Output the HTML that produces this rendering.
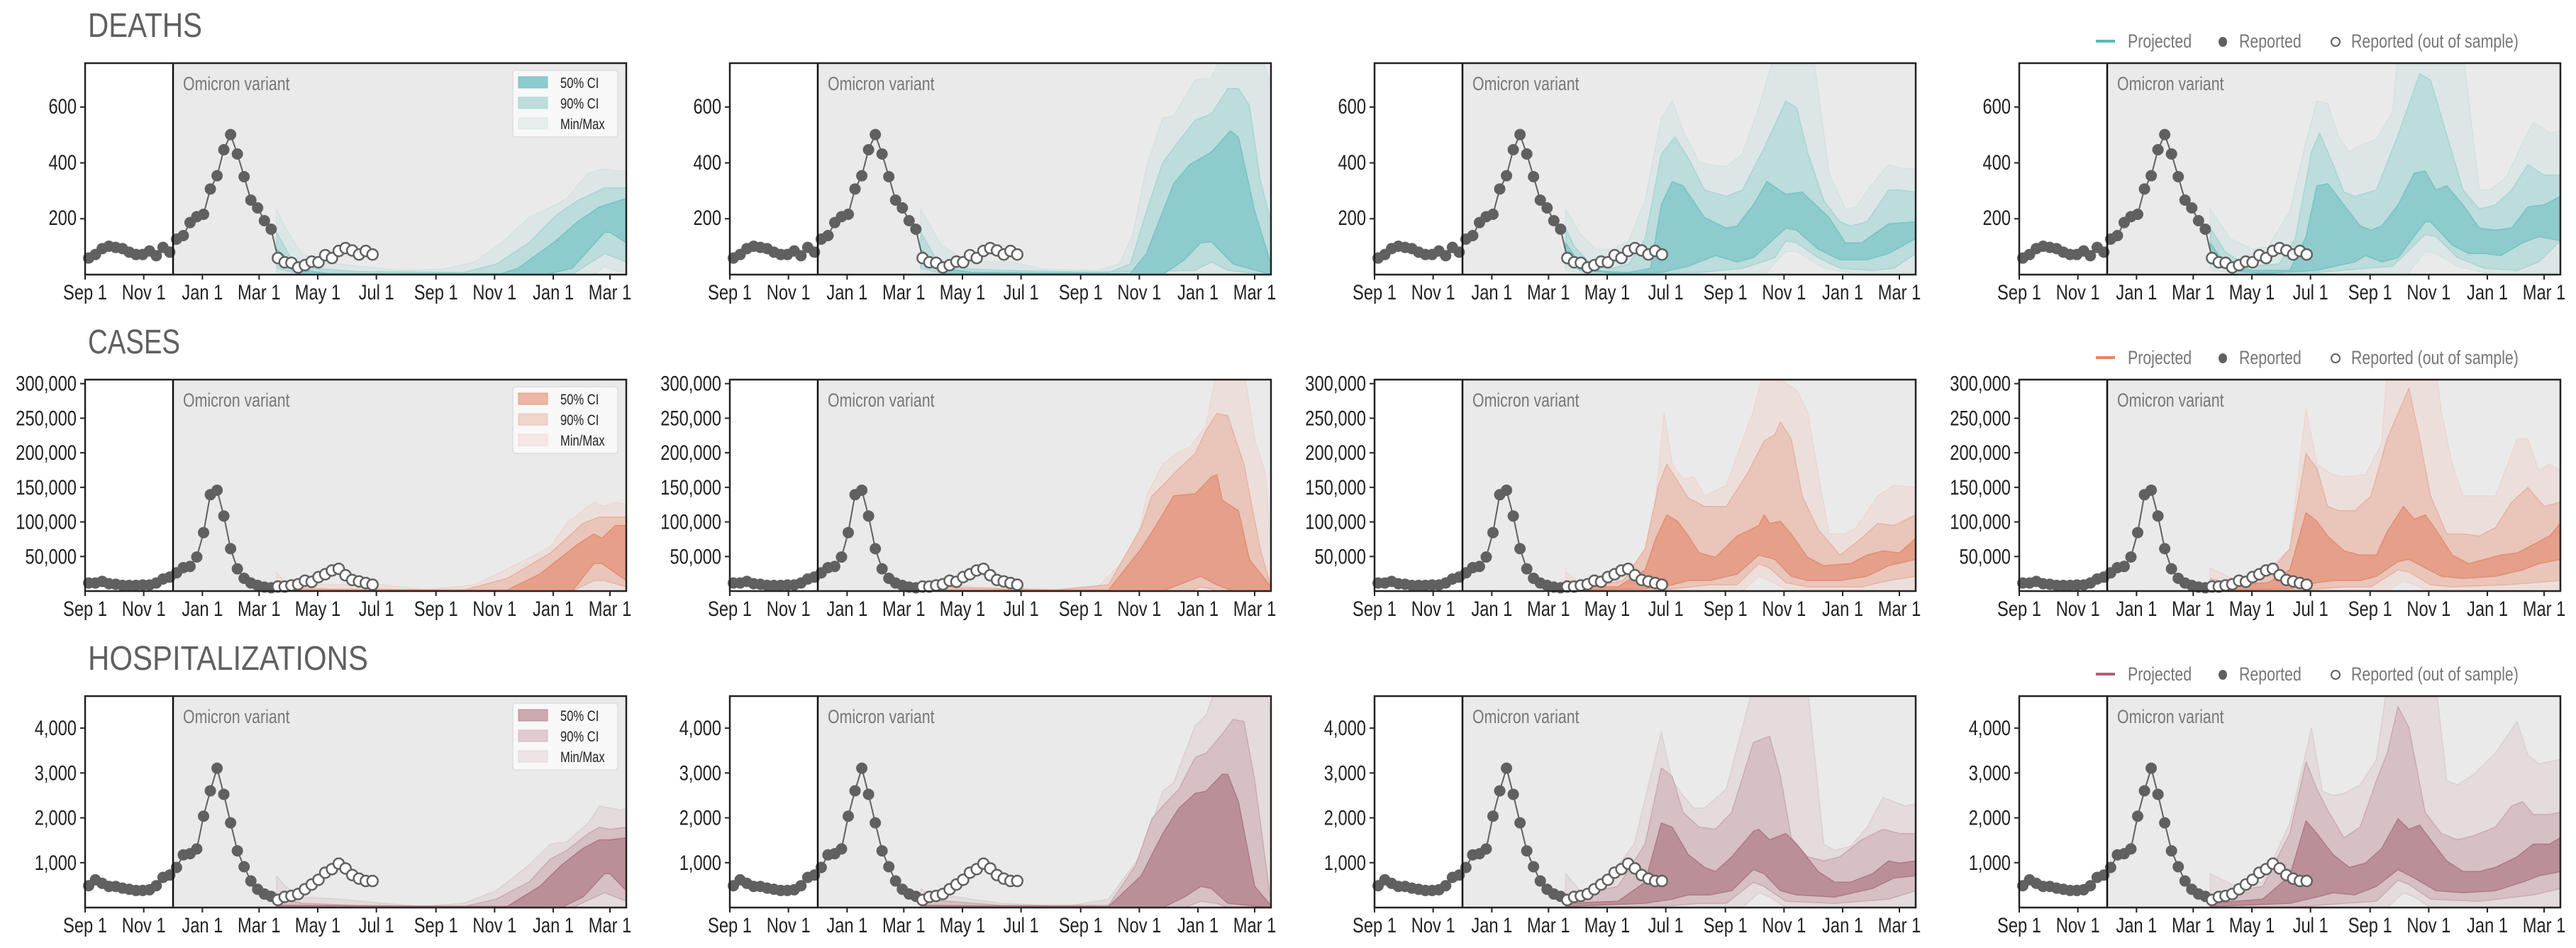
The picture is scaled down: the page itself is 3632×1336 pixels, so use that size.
<!DOCTYPE html>
<html><head><meta charset="utf-8"><style>
html,body{margin:0;padding:0;background:#fff;}
svg{display:block;font-family:"Liberation Sans Narrow","Liberation Sans",sans-serif;}
.tl{font-size:30px;fill:#222;}
.tt{font-size:48px;fill:#606060;}
.om{font-size:27px;fill:#777;}
.lg{font-size:27px;fill:#777;}
.il{font-size:21px;fill:#222;}
</style></head><body>
<svg id="s" width="3632" height="1336" viewBox="0 0 3632 1336" xmlns="http://www.w3.org/2000/svg">
<g id="plots"></g>
<text class="tt" x="124" y="52" textLength="161" lengthAdjust="spacingAndGlyphs">DEATHS</text>
<text class="tt" x="124" y="498" textLength="130" lengthAdjust="spacingAndGlyphs">CASES</text>
<text class="tt" x="124" y="944" textLength="395" lengthAdjust="spacingAndGlyphs">HOSPITALIZATIONS</text>
<g>
<rect x="2955" y="56" width="27" height="4" fill="#5ab9bb"/>
<text class="lg" x="3000" y="67">Projected</text>
<ellipse cx="3134" cy="59" rx="6" ry="7" fill="#606060"/>
<text class="lg" x="3157" y="67">Reported</text>
<circle cx="3293" cy="59" r="6" fill="#fff" stroke="#606060" stroke-width="2"/>
<text class="lg" x="3315" y="67">Reported (out of sample)</text>
</g>
<g transform="translate(0,446)">
<rect x="2955" y="56" width="27" height="4" fill="#e98463"/>
<text class="lg" x="3000" y="67">Projected</text>
<ellipse cx="3134" cy="59" rx="6" ry="7" fill="#606060"/>
<text class="lg" x="3157" y="67">Reported</text>
<circle cx="3293" cy="59" r="6" fill="#fff" stroke="#606060" stroke-width="2"/>
<text class="lg" x="3315" y="67">Reported (out of sample)</text>
</g>
<g transform="translate(0,892)">
<rect x="2955" y="56" width="27" height="4" fill="#b4606e"/>
<text class="lg" x="3000" y="67">Projected</text>
<ellipse cx="3134" cy="59" rx="6" ry="7" fill="#606060"/>
<text class="lg" x="3157" y="67">Reported</text>
<circle cx="3293" cy="59" r="6" fill="#fff" stroke="#606060" stroke-width="2"/>
<text class="lg" x="3315" y="67">Reported (out of sample)</text>
</g>
<text class="om" x="258" y="127">Omicron variant</text>
<text class="om" x="1167" y="127">Omicron variant</text>
<text class="om" x="2076" y="127">Omicron variant</text>
<text class="om" x="2985" y="127">Omicron variant</text>
<text class="om" x="258" y="573">Omicron variant</text>
<text class="om" x="1167" y="573">Omicron variant</text>
<text class="om" x="2076" y="573">Omicron variant</text>
<text class="om" x="2985" y="573">Omicron variant</text>
<text class="om" x="258" y="1019">Omicron variant</text>
<text class="om" x="1167" y="1019">Omicron variant</text>
<text class="om" x="2076" y="1019">Omicron variant</text>
<text class="om" x="2985" y="1019">Omicron variant</text>
<g>
<rect x="723" y="99" width="148" height="94" rx="4" fill="#f8f8f8" stroke="#dcdcdc" stroke-width="1.5"/>
<rect x="731" y="108" width="41" height="16" fill="#8dcbcc" stroke="#76c3c4"/>
<rect x="731" y="137" width="41" height="16" fill="#bddcdc" stroke="#a6d6d6"/>
<rect x="731" y="166" width="41" height="16" fill="#e6eded" stroke="#dde8e8"/>
<text class="il" x="790" y="124">50% CI</text>
<text class="il" x="790" y="153">90% CI</text>
<text class="il" x="790" y="182">Min/Max</text>
</g>
<g transform="translate(0,446)">
<rect x="723" y="99" width="148" height="94" rx="4" fill="#f8f8f8" stroke="#dcdcdc" stroke-width="1.5"/>
<rect x="731" y="108" width="41" height="16" fill="#ecb6a4" stroke="#e69a82"/>
<rect x="731" y="137" width="41" height="16" fill="#f1d4ca" stroke="#ecc3b6"/>
<rect x="731" y="166" width="41" height="16" fill="#f5e7e3" stroke="#f1dcd6"/>
<text class="il" x="790" y="124">50% CI</text>
<text class="il" x="790" y="153">90% CI</text>
<text class="il" x="790" y="182">Min/Max</text>
</g>
<g transform="translate(0,892)">
<rect x="723" y="99" width="148" height="94" rx="4" fill="#f8f8f8" stroke="#dcdcdc" stroke-width="1.5"/>
<rect x="731" y="108" width="41" height="16" fill="#cca9ae" stroke="#b98d95"/>
<rect x="731" y="137" width="41" height="16" fill="#e0ccd0" stroke="#d3bac0"/>
<rect x="731" y="166" width="41" height="16" fill="#ede4e5" stroke="#e4d8da"/>
<text class="il" x="790" y="124">50% CI</text>
<text class="il" x="790" y="153">90% CI</text>
<text class="il" x="790" y="182">Min/Max</text>
</g>
<g id="ylab" class="tl" text-anchor="end">
<text x="108" y="160">600</text><text x="108" y="239">400</text><text x="108" y="317">200</text>
<text x="1017" y="160">600</text><text x="1017" y="239">400</text><text x="1017" y="317">200</text>
<text x="1926" y="160">600</text><text x="1926" y="239">400</text><text x="1926" y="317">200</text>
<text x="2835" y="160">600</text><text x="2835" y="239">400</text><text x="2835" y="317">200</text>
</g>
<g class="tl" text-anchor="end" id="ylab2"></g>
<g class="tl" text-anchor="middle" id="xlab"></g>
</svg>
<script>
(function(){
var NS="http://www.w3.org/2000/svg";
var L=[120,1029,1938,2847],T=[89,535,981],W=763,H=298;
var root=document.getElementById('plots');
function el(n,a,p){var e=document.createElementNS(NS,n);for(var k in a)e.setAttribute(k,a[k]);(p||root).appendChild(e);return e;}
var ppd=(860-120)/546;
var xd=[0,61,122,181,242,303,365,426,487,546];
var xn=["Sep 1","Nov 1","Jan 1","Mar 1","May 1","Jul 1","Sep 1","Nov 1","Jan 1","Mar 1"];
var ymax=[757,305800,4714];
var yt=[[200,400,600],[50000,100000,150000,200000,250000,300000],[1000,2000,3000,4000]];
function fmt(v){return v.toString().replace(/\B(?=(\d{3})+(?!\d))/g,",");}
var dz=[1090,1075,1050,1040,1045,1050,1065,1075,1075,1060,1080,1045,1065,1010,995,940,915,905,798,742,632,568,650,746,845,878,932,968,1090,1108,1110,1130,1120,1105,1108,1078,1090,1060,1048,1058,1075,1060,1075];
var cz=[1125,1125,1118,1128,1130,1135,1135,1135,1133,1133,1125,1108,1100,1082,1060,1055,1015,912,752,733,842,980,1065,1105,1125,1135,1142,1145,1140,1140,1135,1130,1115,1120,1100,1088,1072,1065,1092,1112,1118,1125,1132];
var hz=[1065,1040,1055,1068,1068,1075,1080,1085,1085,1082,1065,1030,1020,988,935,930,910,772,665,570,680,800,918,985,1045,1080,1100,1110,1125,1112,1108,1100,1080,1060,1040,1010,995,972,992,1020,1035,1045,1045];
var RZ=[[dz,1160,894],[cz,1159,893],[hz,1157,891]];
var COL=[
 {mm:"#dde6e6",mms:"#d3e2e2",c90:"#bddcdc",s90:"#a8d5d5",c50:"#8dcbcc",s50:"#77c3c4"},
 {mm:"#ecdfdb",mms:"#eed6cf",c90:"#eac5b9",s90:"#e7b3a2",c50:"#e69f89",s50:"#e08e74"},
 {mm:"#e3dbdc",mms:"#ddcfd1",c90:"#d6c0c4",s90:"#cbaab0",c50:"#bb8f97",s50:"#ad7a84"}];
var SH=[[
[[[.354,.31],[.37,.22],[.40,.10],[.44,.06],[.50,.04],[.58,.02],[.66,.025],[.72,.06],[.77,.15],[.82,.27],[.87,.33],[.89,.36],[.93,.48],[.96,.50],[.98,.49],[1,.49]],
 [[.354,.01],[.4,0],[.94,0],[.96,.04],[.98,.02],[1,.01]],
 [[.354,.2],[.38,.08],[.42,.03],[.5,.015],[.7,.01],[.76,.05],[.82,.15],[.87,.28],[.91,.35],[.96,.41],[1,.41]],
 [[.354,.03],[.4,0],[.9,0],[.96,.1],[.98,.08],[1,.06]],
 [[.354,.12],[.40,.02],[.45,.005],[.77,.005],[.80,.03],[.87,.16],[.91,.25],[.95,.32],[1,.36]],
 [[.354,.06],[.4,0],[.85,0],[.9,.03],[.96,.2],[.97,.2],[1,.15]]],
[[[.353,.31],[.39,.14],[.44,.06],[.52,.06],[.58,.025],[.68,.02],[.72,.05],[.745,.19],[.77,.51],[.80,.74],[.82,.75],[.86,.92],[.89,.93],[.91,1.05],[.98,1.05],[1,.9]],
 [[.353,.01],[.4,0],[1,0]],
 [[.353,.2],[.38,.08],[.42,.03],[.5,.02],[.7,.01],[.74,.05],[.77,.3],[.80,.53],[.82,.6],[.86,.73],[.89,.76],[.92,.88],[.94,.88],[.96,.8],[.98,.45],[1,.25]],
 [[.353,.03],[.4,0],[.86,.02],[.89,.06],[.92,.02],[1,0]],
 [[.353,.12],[.39,.03],[.45,.01],[.74,.005],[.77,.1],[.82,.43],[.85,.52],[.89,.58],[.925,.68],[.94,.65],[.97,.3],[1,.05]],
 [[.353,.06],[.40,.005],[.80,0],[.84,.07],[.87,.15],[.89,.155],[.93,.05],[1,0]]],
[[[.353,.31],[.38,.19],[.41,.12],[.44,.12],[.47,.16],[.50,.35],[.53,.74],[.55,.82],[.57,.68],[.60,.53],[.62,.52],[.65,.51],[.68,.57],[.71,.79],[.74,1.05],[.81,1.05],[.84,.48],[.87,.31],[.89,.32],[.92,.43],[.95,.52],[.98,.5],[1,.5]],
 [[.353,.02],[.4,0],[.72,0],[.76,.11],[.78,.11],[.83,.03],[.88,.01],[1,.01]],
 [[.353,.22],[.37,.13],[.40,.05],[.44,.03],[.47,.05],[.50,.17],[.53,.57],[.555,.65],[.58,.55],[.61,.40],[.65,.37],[.68,.40],[.72,.60],[.76,.82],[.78,.79],[.80,.58],[.83,.35],[.86,.25],[.88,.23],[.91,.25],[.95,.40],[.97,.40],[1,.39]],
 [[.353,.05],[.4,0],[.6,.01],[.68,.03],[.74,.08],[.76,.16],[.78,.15],[.82,.08],[.86,.03],[.92,.02],[.96,.03],[1,.1]],
 [[.353,.15],[.38,.05],[.42,.015],[.47,.01],[.51,.03],[.53,.33],[.55,.44],[.57,.42],[.61,.27],[.65,.22],[.67,.23],[.70,.33],[.725,.44],[.76,.38],[.79,.39],[.84,.27],[.87,.15],[.9,.15],[.95,.24],[1,.25]],
 [[.353,.09],[.38,.02],[.45,.005],[.53,.01],[.58,.04],[.63,.09],[.67,.06],[.70,.08],[.76,.22],[.78,.21],[.82,.12],[.86,.07],[.91,.07],[.95,.1],[1,.17]]],
[[[.353,.31],[.39,.17],[.43,.12],[.46,.13],[.50,.3],[.53,.63],[.55,.82],[.57,.81],[.59,.65],[.61,.58],[.63,.61],[.66,.64],[.69,.77],[.70,1.05],[.82,1.05],[.85,.40],[.87,.40],[.90,.46],[.93,.62],[.95,.72],[.98,.67],[1,.68]],
 [[.353,.02],[.45,0],[.72,.01],[.75,.11],[.77,.10],[.81,.04],[.86,.01],[1,.01]],
 [[.353,.22],[.38,.11],[.42,.04],[.48,.05],[.51,.17],[.54,.58],[.555,.67],[.58,.52],[.60,.39],[.62,.37],[.66,.40],[.7,.66],[.74,.95],[.76,.92],[.79,.66],[.82,.40],[.85,.31],[.88,.33],[.91,.40],[.94,.52],[.97,.47],[1,.47]],
 [[.353,.05],[.4,.01],[.55,.01],[.64,.03],[.69,.04],[.75,.19],[.77,.18],[.81,.08],[.86,.03],[.92,.02],[.96,.06],[1,.16]],
 [[.353,.15],[.38,.05],[.43,.02],[.50,.02],[.53,.18],[.55,.42],[.57,.43],[.60,.33],[.63,.23],[.65,.21],[.67,.23],[.70,.33],[.73,.48],[.75,.49],[.77,.40],[.79,.42],[.82,.33],[.85,.22],[.88,.21],[.91,.22],[.94,.32],[.97,.33],[1,.37]],
 [[.353,.09],[.39,.02],[.45,.005],[.55,.02],[.62,.06],[.64,.09],[.67,.06],[.70,.08],[.75,.25],[.76,.25],[.80,.14],[.83,.10],[.86,.10],[.89,.09],[.93,.15],[.96,.18],[1,.16]]]
],[
[[[.354,.09],[.37,.04],[.45,.03],[.55,.03],[.63,.005],[.72,.03],[.80,.13],[.86,.21],[.89,.32],[.94,.42],[.96,.40],[.98,.42],[1,.41]],
 [[.354,0],[1,0]],
 [[.354,.02],[.45,.01],[.70,.005],[.78,.06],[.86,.18],[.92,.32],[.95,.35],[.97,.35],[1,.35]],
 [[.354,0],[.9,0],[.94,.05],[.96,.05],[1,.02]],
 [[.354,.005],[.78,.005],[.84,.08],[.91,.22],[.94,.27],[.955,.25],[.98,.31],[1,.31]],
 [[.354,0],[.9,0],[.94,.13],[.955,.13],[1,.05]]],
[[[.353,.05],[.45,.02],[.62,.005],[.68,.02],[.75,.2],[.77,.45],[.80,.60],[.83,.66],[.85,.68],[.88,.78],[.90,1.05],[.95,1.05],[.97,.72],[.99,.55],[1,.2]],
 [[.353,0],[1,0]],
 [[.353,.02],[.6,.005],[.7,.03],[.76,.3],[.78,.45],[.80,.5],[.83,.58],[.86,.65],[.88,.76],[.90,.84],[.92,.83],[.95,.60],[.98,.2],[1,.02]],
 [[.353,0],[.85,0],[.87,.02],[.89,.01],[.9,0],[1,0]],
 [[.353,.005],[.7,.005],[.76,.2],[.79,.32],[.82,.45],[.86,.46],[.89,.54],[.90,.55],[.91,.43],[.94,.38],[.96,.15],[1,.02]],
 [[.353,0],[.8,0],[.85,.05],[.87,.07],[.90,.03],[.93,0],[1,0]]],
[[[.353,.09],[.38,.04],[.45,.06],[.50,.15],[.52,.45],[.535,.84],[.55,.6],[.57,.53],[.59,.54],[.61,.45],[.65,.5],[.70,.85],[.72,1.05],[.78,.95],[.80,.85],[.82,.55],[.84,.27],[.87,.27],[.89,.30],[.93,.45],[.96,.5],[1,.49]],
 [[.353,0],[.68,0],[.71,.07],[.73,.05],[.76,.01],[1,0]],
 [[.353,.05],[.4,.02],[.46,.05],[.5,.2],[.525,.50],[.54,.6],[.56,.52],[.58,.44],[.61,.40],[.65,.40],[.69,.56],[.72,.71],[.74,.74],[.75,.80],[.77,.72],[.79,.45],[.82,.29],[.86,.17],[.90,.25],[.93,.32],[.96,.31],[1,.36]],
 [[.353,0],[.5,0],[.55,.01],[.62,.03],[.67,.03],[.71,.13],[.73,.11],[.76,.04],[.80,.02],[.9,.02],[.95,.05],[1,.07]],
 [[.353,.02],[.45,.02],[.5,.1],[.52,.25],[.54,.36],[.56,.33],[.58,.26],[.60,.18],[.63,.16],[.67,.26],[.71,.31],[.72,.36],[.73,.32],[.75,.33],[.77,.27],[.80,.16],[.83,.12],[.88,.13],[.91,.17],[.94,.19],[.97,.18],[1,.25]],
 [[.353,.005],[.5,.01],[.55,.03],[.58,.05],[.62,.05],[.67,.08],[.71,.17],[.74,.15],[.77,.07],[.80,.05],[.86,.05],[.91,.07],[.95,.12],[1,.15]]],
[[[.353,.11],[.40,.05],[.45,.08],[.5,.2],[.53,.86],[.55,.6],[.58,.55],[.60,.54],[.64,.55],[.67,.70],[.68,1.05],[.77,1.05],[.78,.85],[.80,.60],[.82,.45],[.85,.45],[.88,.45],[.90,.58],[.92,.72],[.94,.72],[.96,.57],[.98,.6],[1,.57]],
 [[.353,0],[.68,0],[.71,.05],[.73,.03],[.76,0],[1,0]],
 [[.353,.06],[.4,.03],[.46,.08],[.5,.2],[.52,.5],[.53,.65],[.55,.58],[.57,.4],[.59,.38],[.62,.38],[.65,.45],[.68,.72],[.70,.84],[.72,.96],[.74,.72],[.76,.45],[.79,.27],[.82,.27],[.85,.26],[.88,.30],[.91,.42],[.94,.49],[.97,.40],[1,.42]],
 [[.353,0],[.5,0],[.55,.01],[.6,.02],[.65,.02],[.70,.10],[.72,.09],[.76,.03],[.8,.02],[.9,.03],[1,.05]],
 [[.353,.02],[.46,.04],[.5,.1],[.53,.37],[.55,.33],[.57,.26],[.6,.19],[.63,.17],[.66,.17],[.68,.28],[.71,.40],[.73,.34],[.75,.36],[.77,.29],[.80,.17],[.83,.13],[.86,.15],[.89,.17],[.92,.18],[.95,.22],[.98,.26],[1,.32]],
 [[.353,.005],[.5,.01],[.55,.04],[.58,.05],[.63,.05],[.66,.07],[.70,.14],[.72,.15],[.75,.11],[.78,.07],[.82,.06],[.88,.07],[.93,.10],[.96,.13],[1,.15]]]
],[
[[[.354,.15],[.37,.10],[.40,.05],[.47,.04],[.55,.02],[.62,.005],[.70,.02],[.76,.08],[.82,.20],[.86,.30],[.89,.31],[.93,.40],[.95,.48],[.97,.47],[.99,.46],[1,.47]],
 [[.354,0],[1,0]],
 [[.354,.05],[.4,.02],[.5,.01],[.7,.005],[.76,.04],[.82,.12],[.86,.23],[.89,.27],[.93,.35],[.95,.38],[.97,.37],[1,.38]],
 [[.354,0],[.9,0],[.96,.07],[.98,.05],[1,.03]],
 [[.354,.01],[.78,.005],[.84,.10],[.88,.20],[.92,.28],[.95,.32],[.97,.32],[1,.33]],
 [[.354,0],[.88,0],[.92,.05],[.96,.16],[.97,.16],[1,.08]]],
[[[.353,.09],[.37,.06],[.42,.05],[.5,.02],[.62,.005],[.70,.04],[.76,.25],[.80,.55],[.82,.59],[.86,.86],[.88,.91],[.90,1.05],[.99,1.05],[1,.9]],
 [[.353,0],[1,0]],
 [[.353,.04],[.5,.01],[.7,.01],[.75,.2],[.78,.42],[.80,.48],[.83,.56],[.86,.71],[.88,.73],[.91,.82],[.93,.89],[.95,.88],[.97,.6],[1,.02]],
 [[.353,0],[.84,0],[.87,.03],[.9,.02],[.92,0],[1,0]],
 [[.353,.01],[.7,.005],[.76,.15],[.80,.35],[.83,.47],[.86,.54],[.88,.55],[.91,.63],[.92,.63],[.94,.50],[.97,.1],[1,.01]],
 [[.353,0],[.8,0],[.84,.05],[.87,.1],[.89,.09],[.92,.02],[1,0]]],
[[[.353,.16],[.38,.08],[.42,.10],[.48,.30],[.53,.83],[.55,.60],[.57,.53],[.59,.47],[.61,.47],[.65,.56],[.70,1.05],[.80,1.05],[.83,.3],[.85,.27],[.88,.29],[.91,.38],[.94,.52],[.96,.50],[.98,.48],[1,.49]],
 [[.353,0],[.68,0],[.71,.07],[.73,.05],[.76,0],[1,0]],
 [[.353,.05],[.45,.10],[.50,.30],[.53,.66],[.55,.62],[.57,.45],[.60,.38],[.63,.37],[.66,.45],[.70,.78],[.73,.81],[.75,.62],[.77,.33],[.80,.24],[.83,.22],[.86,.24],[.90,.32],[.94,.37],[.97,.35],[1,.35]],
 [[.353,0],[.5,0],[.6,.02],[.65,.02],[.70,.12],[.72,.10],[.76,.03],[.85,.02],[.95,.04],[1,.08]],
 [[.353,.02],[.45,.03],[.5,.12],[.53,.40],[.55,.38],[.58,.25],[.61,.19],[.63,.17],[.66,.24],[.70,.36],[.71,.37],[.73,.32],[.76,.35],[.78,.3],[.82,.17],[.85,.12],[.88,.12],[.92,.16],[.95,.22],[.97,.21],[1,.22]],
 [[.353,.005],[.5,.02],[.55,.04],[.58,.06],[.62,.06],[.66,.08],[.70,.18],[.72,.16],[.75,.08],[.78,.06],[.85,.05],[.92,.09],[.96,.14],[1,.15]]],
[[[.353,.16],[.40,.10],[.45,.12],[.50,.40],[.54,.85],[.56,.55],[.58,.53],[.60,.54],[.63,.58],[.66,.70],[.68,1.05],[.77,1.05],[.79,.6],[.81,.58],[.84,.63],[.88,.73],[.92,.88],[.94,.72],[.96,.68],[1,.70]],
 [[.353,0],[.68,0],[.71,.07],[.73,.05],[.76,0],[1,0]],
 [[.353,.06],[.45,.10],[.50,.35],[.53,.69],[.55,.56],[.57,.46],[.60,.33],[.63,.38],[.66,.60],[.68,.73],[.70,.95],[.72,.85],[.75,.45],[.78,.35],[.81,.32],[.84,.34],[.88,.38],[.91,.48],[.93,.50],[.95,.44],[.98,.44],[1,.45]],
 [[.353,0],[.5,0],[.6,.02],[.66,.03],[.70,.13],[.72,.11],[.76,.04],[.85,.03],[.95,.06],[1,.09]],
 [[.353,.02],[.45,.04],[.50,.15],[.53,.41],[.55,.35],[.58,.25],[.61,.19],[.64,.21],[.67,.28],[.70,.42],[.72,.37],[.74,.39],[.76,.32],[.79,.22],[.82,.17],[.85,.17],[.88,.19],[.92,.24],[.95,.30],[.98,.30],[1,.33]],
 [[.353,.005],[.5,.02],[.55,.05],[.58,.07],[.62,.06],[.66,.10],[.70,.18],[.73,.14],[.77,.08],[.82,.07],[.88,.08],[.93,.12],[.96,.15],[1,.17]]]
]];
function pts(ox,oy,list){return list.map(function(p){return (ox+p[0]*W).toFixed(1)+","+(oy+H*(1-p[1])).toFixed(1);});}
function poly(ox,oy,up,lo,fill,stroke,clip){
  var a=pts(ox,oy,up).concat(pts(ox,oy,lo.slice().reverse()));
  el('polygon',{points:a.join(' '),fill:fill,stroke:stroke,'stroke-width':1.5,'stroke-linejoin':'round','clip-path':clip});
}
var xl=document.getElementById('xlab'),yl=document.getElementById('ylab2');
var defs=el('defs',{});
for(var r=0;r<3;r++)for(var c=0;c<4;c++){
  var ox=L[c],oy=T[r];
  var id='cp'+r+'_'+c;
  var cp=el('clipPath',{id:id},defs);el('rect',{x:ox,y:oy,width:W,height:H},cp);
  var om=ox+124;
  el('rect',{x:ox,y:oy,width:W,height:H,fill:'#fff'});
  el('rect',{x:om,y:oy,width:ox+W-om,height:H,fill:'#eaeaea'});
  var sh=SH[r][c],co=COL[r],cl='url(#'+id+')';
  poly(ox,oy,sh[0],sh[1],co.mm,co.mms,cl);
  poly(ox,oy,sh[2],sh[3],co.c90,co.s90,cl);
  poly(ox,oy,sh[4],sh[5],co.c50,co.s50,cl);
  var rz=RZ[r],zs=rz[0],bz=rz[1],hz_=rz[2];
  var P=zs.map(function(z,i){return [ox+5+i*9.53, oy+H*(1-(bz-z)/hz_)];});
  el('polyline',{points:P.map(function(p){return p[0].toFixed(1)+','+p[1].toFixed(1);}).join(' '),fill:'none',stroke:'#606060','stroke-width':2});
  P.forEach(function(p,i){
    if(i<28)el('circle',{cx:p[0],cy:p[1],r:8,fill:'#606060'});
    else el('circle',{cx:p[0],cy:p[1],r:7.5,fill:'#fff',stroke:'#606060','stroke-width':2.5});
  });
  el('line',{x1:om,y1:oy,x2:om,y2:oy+H,stroke:'#111','stroke-width':2.5});
  el('rect',{x:ox,y:oy,width:W,height:H,fill:'none',stroke:'#222','stroke-width':2.5});
  xd.forEach(function(d,i){var x=ox+d*ppd;
    el('line',{x1:x,y1:oy+H,x2:x,y2:oy+H+7,stroke:'#222','stroke-width':2});
    var t=el('text',{x:x,y:oy+H+35},xl);t.textContent=xn[i];});
  yt[r].forEach(function(v){var y=oy+H*(1-v/ymax[r]);
    el('line',{x1:ox-7,y1:y,x2:ox,y2:y,stroke:'#222','stroke-width':2});
    if(r>0){var t=el('text',{x:ox-12,y:y+10},yl);t.textContent=fmt(v);}
  });
}
var ts=document.querySelectorAll('.tl text, text.lg, text.om, text.il');
for(var i=0;i<ts.length;i++){
  var t=ts[i];var w=t.getComputedTextLength();
  if(w>0){t.setAttribute('textLength',(w*0.79).toFixed(1));t.setAttribute('lengthAdjust','spacingAndGlyphs');}
}
})();
</script>
</body></html>
